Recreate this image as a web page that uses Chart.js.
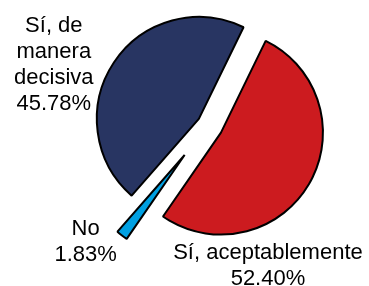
<!DOCTYPE html>
<html>
<head>
<meta charset="utf-8">
<script src="https://cdn.jsdelivr.net/npm/chart.js@4.4.1/dist/chart.umd.min.js"></script>
<style>
  html, body { margin: 0; padding: 0; background: #fff; }
  canvas { display: block; }
</style>
</head>
<body>
<canvas id="pieChart" width="369" height="286"></canvas>
<script>
// categorias y porcentajes (en el orden del reloj, empezando arriba a la derecha)
const categories = [['Sí, aceptablemente'], ['No'], ['Sí, de', 'manera', 'decisiva']];
const values = [52.40, 1.83, 45.78];
const valueLabels = ['52.40%', '1.83%', '45.78%'];
const sliceColors = ['#cc1b1f', '#00a0e2', '#283562'];
const explode = [15, 38, 11]; // separación de cada porción, en px

// desplazamiento de cada etiqueta respecto al centro de su porción
const labelShiftX = [47, -99, -145];
const labelShiftY = [126, 80, -87];

// el offset de Chart.js tambien agranda el radio, asi que movemos el centro de cada porción
const explodeSlices = {
    id: 'explodeSlices',
    afterDatasetUpdate(chart, args) {
        args.meta.data.forEach((arc, i) => {
            const mid = (arc.startAngle + arc.endAngle) / 2;
            arc.x += Math.cos(mid) * explode[i];
            arc.y += Math.sin(mid) * explode[i];
        });
    }
};

const outsideLabels = {
    id: 'outsideLabels',
    afterDatasetsDraw(chart) {
        const ctx = chart.ctx;
        const meta = chart.getDatasetMeta(0);
        ctx.save();
        ctx.font = '22px "Liberation Sans", Arial, sans-serif';
        ctx.fillStyle = '#000';
        ctx.textAlign = 'center';
        ctx.textBaseline = 'alphabetic';
        meta.data.forEach((arc, i) => {
            const lines = categories[i].concat([valueLabels[i]]);
            lines.forEach((t, k) => {
                ctx.fillText(t, arc.x + labelShiftX[i], arc.y + labelShiftY[i] + k * 26);
            });
        });
        ctx.restore();
    }
};

const ctx = document.getElementById('pieChart').getContext('2d');
const pieChart = new Chart(ctx, {
    type: 'pie',
    data: {
        labels: categories.map(c => c.join(' ')),
        datasets: [{
            data: values,
            backgroundColor: sliceColors,
            borderColor: '#000',
            borderWidth: 2,
            radius: 102
        }]
    },
    options: {
        responsive: false,
        animation: false,
        rotation: 26,
        layout: { padding: { left: 47, right: 0, top: 0, bottom: 36 } },
        plugins: {
            legend: { display: false },
            tooltip: { enabled: false }
        }
    },
    plugins: [explodeSlices, outsideLabels]
});
</script>
</body>
</html>
